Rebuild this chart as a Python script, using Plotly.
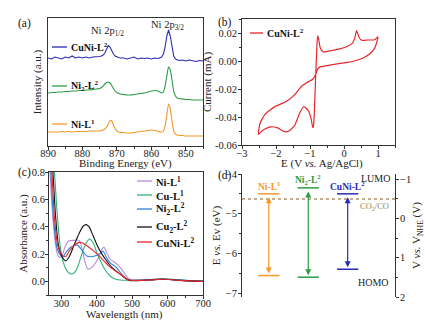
import plotly.graph_objects as go

W, H = 425, 328
FONT = "Liberation Serif"

# ---------------- (a) XPS ----------------
be = [890, 889, 888, 887, 886, 885, 884, 883, 882, 881, 880, 879, 878, 877, 876,
      875, 874.5, 874, 873.5, 873, 872.5, 872, 871.5, 871, 870.5, 870, 869.5, 869,
      868, 867, 866, 865, 864, 863, 862, 861, 860, 859, 858,
      857.5, 857, 856.5, 856, 855.5, 855, 854.5, 854, 853.5, 853, 852.5, 852,
      851, 850, 849, 848, 847, 846, 845]
xps_cuni = [88, 87, 89, 88, 87, 89, 88, 90, 88, 89, 88, 89, 88, 89, 89,
            89.5, 90, 91, 93, 97, 100.5, 99, 95, 92, 90, 89, 88.5, 88,
            88, 87, 88, 89, 87, 88, 87.5, 88, 87, 88, 87.5,
            88, 89, 92, 99, 110, 116, 110, 98, 90, 87, 86, 85.5,
            86, 85, 86, 85, 84.5, 85.5, 85]
xps_ni2 = [53, 53.5, 53.5, 54, 54, 54.5, 54.5, 55, 55, 55.5, 55.5, 56, 56, 56.5, 57,
           57.5, 58.5, 60, 62, 63.5, 64, 63, 60.5, 57.5, 55, 53.5, 52.5, 52,
           51.5, 51, 51, 51.5, 52, 52.5, 53, 54, 55, 55.5, 55,
           54, 53, 54, 60, 70, 79, 76, 66, 55, 50, 48, 47.5,
           47, 46.5, 46.5, 46, 46, 46, 46]
xps_ni = [14, 14, 14, 14, 14.5, 14, 14.5, 14, 14.5, 14.5, 14.5, 14.5, 15, 15, 15,
          15, 15.5, 16, 17, 19, 22, 25.5, 25, 21, 17.5, 15, 14, 13.5,
          13.5, 13, 13, 13.5, 14, 14.5, 15, 15.5, 16, 15.5, 14.5,
          14, 14, 15, 20, 31, 42, 37, 25, 15, 12, 11, 10.5,
          10.5, 10, 10, 10, 10, 10, 10]

# ---------------- (b) CV ----------------
cv_e = [1.00, 0.90, 0.70, 0.52, 0.44, 0.37, 0.32, 0.25, 0.10, -0.10, -0.30, -0.50,
        -0.62, -0.70, -0.74, -0.77, -0.79, -0.81, -0.84, -0.87, -0.90, -0.92, -0.96,
        -1.05, -1.18, -1.30, -1.45, -1.62, -1.75, -1.95, -2.15, -2.35, -2.48, -2.52,
        -2.47, -2.32, -2.03, -1.70, -1.45, -1.25, -1.10, -0.92, -0.84, -0.78, -0.70,
        -0.55, -0.20, 0.10, 0.30, 0.55, 0.75, 0.90, 1.00]
cv_i = [0.0172, 0.0152, 0.0150, 0.0148, 0.0170, 0.0218, 0.0165, 0.0128, 0.0105, 0.0088, 0.0078, 0.0068,
        0.0066, 0.0095, 0.0150, 0.0180, 0.0140, 0.0030, -0.0150, -0.0350, -0.0470, -0.0475, -0.0420,
        -0.0355, -0.0325, -0.0370, -0.0460, -0.0500, -0.0505, -0.0478, -0.0470, -0.0490, -0.0515, -0.0525,
        -0.0445, -0.0380, -0.0326, -0.0290, -0.0240, -0.0180, -0.0155, -0.0130, -0.0100, -0.0060, -0.0042,
        -0.0035, -0.0020, -0.0010, 0.0000, 0.0020, 0.0050, 0.0090, 0.0172]

# ---------------- (c) UV-vis ----------------
wl_ni1 = [265, 268, 275, 283, 292, 300, 310, 320, 335, 350, 360, 368, 375, 385, 400, 412, 420, 428, 438, 450, 462, 475, 488, 500, 550, 580, 620, 660, 700]
ab_ni1 = [0.95, 0.8, 0.5, 0.28, 0.18, 0.18, 0.25, 0.295, 0.30, 0.30, 0.22, 0.13, 0.09, 0.10, 0.15, 0.22, 0.25, 0.21, 0.16, 0.14, 0.115, 0.07, 0.025, 0.01, 0.012, 0.018, 0.012, 0.005, 0.002]
wl_cu1 = [272, 280, 288, 297, 305, 315, 325, 335, 345, 358, 370, 380, 390, 400, 410, 420, 432, 445, 460, 500, 550, 590, 630, 670, 700]
ab_cu1 = [0.95, 0.8, 0.5, 0.25, 0.14, 0.08, 0.055, 0.06, 0.10, 0.20, 0.28, 0.31, 0.28, 0.21, 0.15, 0.10, 0.055, 0.025, 0.012, 0.008, 0.012, 0.018, 0.012, 0.004, 0.002]
wl_ni2 = [265, 270, 278, 288, 298, 305, 315, 330, 345, 360, 372, 385, 400, 412, 418, 428, 440, 452, 465, 478, 492, 550, 580, 620, 660, 700]
ab_ni2 = [0.95, 0.8, 0.45, 0.24, 0.19, 0.18, 0.22, 0.255, 0.265, 0.22, 0.185, 0.18, 0.19, 0.21, 0.22, 0.17, 0.13, 0.11, 0.07, 0.03, 0.01, 0.012, 0.017, 0.012, 0.005, 0.002]
wl_cu2 = [270, 276, 283, 292, 302, 312, 322, 335, 350, 362, 370, 378, 390, 400, 412, 425, 440, 455, 470, 485, 495, 550, 585, 620, 660, 700]
ab_cu2 = [0.95, 0.8, 0.5, 0.26, 0.18, 0.15, 0.18, 0.26, 0.35, 0.405, 0.415, 0.40, 0.33, 0.27, 0.21, 0.16, 0.11, 0.075, 0.045, 0.015, 0.005, 0.01, 0.015, 0.01, 0.003, 0.0]
wl_cuni = [268, 273, 281, 290, 300, 312, 322, 335, 350, 360, 375, 390, 405, 420, 435, 450, 465, 478, 490, 550, 585, 620, 660, 700]
ab_cuni = [0.95, 0.8, 0.45, 0.26, 0.20, 0.18, 0.22, 0.26, 0.285, 0.28, 0.255, 0.225, 0.19, 0.15, 0.11, 0.08, 0.055, 0.03, 0.01, 0.01, 0.015, 0.01, 0.003, 0.0]

# ---------------- (d) band levels ----------------
complexes = ["Ni-L<sup>1</sup>", "Ni<sub>2</sub>-L<sup>2</sup>", "CuNi-L<sup>2</sup>"]
lumo = [-4.50, -4.35, -4.50]
homo = [-6.56, -6.60, -6.40]
co2_co = -4.63

c_orange = "#f39a2b"
c_green = "#2e9c44"
c_blue = "#2b2bb5"
c_red = "#e8262b"

fig = go.Figure()

def px_x(p):
    return p / W

def px_y(p):
    return 1 - p / H

# (a)
fig.add_trace(go.Scatter(x=be, y=xps_cuni, mode="lines", line=dict(color=c_blue, width=1.1), xaxis="x", yaxis="y"))
fig.add_trace(go.Scatter(x=be, y=xps_ni2, mode="lines", line=dict(color=c_green, width=1.1, shape="spline", smoothing=0.6), xaxis="x", yaxis="y"))
fig.add_trace(go.Scatter(x=be, y=xps_ni, mode="lines", line=dict(color=c_orange, width=1.1, shape="spline", smoothing=0.6), xaxis="x", yaxis="y"))

# (b)
fig.add_trace(go.Scatter(x=cv_e, y=cv_i, mode="lines", line=dict(color=c_red, width=1.2, shape="spline", smoothing=0.5), xaxis="x2", yaxis="y2"))

# (c)
uv = [(wl_ni1, ab_ni1, "#b98bd8", "Ni-L<sup>1</sup>"),
      (wl_cu1, ab_cu1, "#33b07a", "Cu-L<sup>1</sup>"),
      (wl_ni2, ab_ni2, "#2f80dc", "Ni<sub>2</sub>-L<sup>2</sup>"),
      (wl_cu2, ab_cu2, "#111111", "Cu<sub>2</sub>-L<sup>2</sup>"),
      (wl_cuni, ab_cuni, c_red, "CuNi-L<sup>2</sup>")]
for wl, ab, col, nm in uv:
    fig.add_trace(go.Scatter(x=wl, y=ab, mode="lines", line=dict(color=col, width=1.1, shape="spline", smoothing=0.8),
                             xaxis="x3", yaxis="y3"))

# (d)
dcols = [c_orange, c_green, c_blue]
xpos = [1, 2, 3]
hw = 0.27
for i in range(3):
    for lv in (lumo[i], homo[i]):
        fig.add_trace(go.Scatter(x=[xpos[i] - hw, xpos[i] + hw], y=[lv, lv], mode="lines",
                                 line=dict(color=dcols[i], width=1.5), xaxis="x4", yaxis="y4"))
fig.add_trace(go.Scatter(x=[0.32, 4.2], y=[co2_co, co2_co], mode="lines",
                         line=dict(color="#8a5a20", width=1, dash="dot"), xaxis="x4", yaxis="y4"))
fig.add_trace(go.Scatter(x=[None], y=[None], xaxis="x4", yaxis="y5", showlegend=False))

annotations = []
shapes = []

for i in range(3):
    annotations.append(dict(x=xpos[i], y=homo[i], ax=xpos[i], ay=lumo[i], xref="x4", yref="y4",
                            axref="x4", ayref="y4", showarrow=True, arrowhead=2, arrowside="end+start",
                            arrowsize=1, arrowwidth=1.2, arrowcolor=dcols[i], standoff=2, startstandoff=2, text=""))
    annotations.append(dict(x=xpos[i], y=lumo[i], xref="x4", yref="y4", xanchor="center", yanchor="bottom", yshift=0,
                            showarrow=False, text="<b>" + complexes[i] + "</b>",
                            font=dict(color=dcols[i], size=9.5, family=FONT)))


def txt(x, y, text, size=11, color="#222", xanchor="center"):
    annotations.append(dict(x=px_x(x), y=px_y(y), xref="paper", yref="paper", xanchor=xanchor, yanchor="middle",
                            text=text, showarrow=False, font=dict(size=size, family=FONT, color=color)))


txt(392, 178, "LUMO", 10, xanchor="right")
txt(391, 282, "HOMO", 10, xanchor="right")
txt(391, 206, "CO<sub>2</sub>/CO", 8.5, "#9a8448", xanchor="right")
# x-axis titles
txt(126, 163, "Binding Energy (eV)")
txt(322, 163, "E (V <i>vs.</i> Ag/AgCl)")
txt(124, 314, "Wavelength (nm)")

# panel letters
for lab, x, y in [("(a)", 16, 24), ("(b)", 216, 23), ("(c)", 16, 172), ("(d)", 216, 175)]:
    txt(x, y, lab, 11.5, "#111", xanchor="left")

# (a) peak labels
annotations.append(dict(x=872.7, y=146 - 31, xref="x", yref="y", text="Ni 2p<sub>1/2</sub>", showarrow=False,
                        xanchor="center", yanchor="middle", font=dict(size=10.5, family=FONT, color="#222")))
annotations.append(dict(x=855.3, y=146 - 25, xref="x", yref="y", text="Ni 2p<sub>3/2</sub>", showarrow=False,
                        xanchor="center", yanchor="middle", font=dict(size=10.5, family=FONT, color="#222")))


def legend_item(x0, x1, y, col, text, size=10.5):
    shapes.append(dict(type="line", xref="paper", yref="paper", x0=px_x(x0), x1=px_x(x1), y0=px_y(y), y1=px_y(y),
                       line=dict(color=col, width=1.3)))
    txt(x1 + 1.5, y, "<b>" + text + "</b>", size, "#111", xanchor="left")


legend_item(52, 67, 47, c_blue, "CuNi-L<sup>2</sup>", 10)
legend_item(52, 67, 86, c_green, "Ni<sub>2</sub>-L<sup>2</sup>", 10)
legend_item(52, 67, 124, c_orange, "Ni-L<sup>1</sup>", 10)
legend_item(250, 263, 33, c_red, "CuNi-L<sup>2</sup>", 10)
for (wl, ab, col, nm), yy in zip(uv, [181, 195, 209, 227, 242]):
    legend_item(137, 152, yy, col, nm)

axis_common = dict(showline=True, linecolor="#333", linewidth=1, mirror=True, ticks="outside", ticklen=3,
                   tickcolor="#333", tickfont=dict(size=10.5, family=FONT, color="#222"), showgrid=False,
                   zeroline=False, title_font=dict(size=11, family=FONT, color="#222"), automargin=False,
                   minor=dict(ticks="outside", ticklen=2, tickcolor="#333"))

fig.update_layout(
    width=W, height=H, margin=dict(l=0, r=0, t=0, b=0, autoexpand=False), paper_bgcolor="white", plot_bgcolor="white",
    showlegend=False, font=dict(family=FONT),
    xaxis=dict(axis_common, domain=[px_x(48), px_x(203)], anchor="y", range=[890, 845],
               tickvals=[890, 880, 870, 860, 850], minor=dict(axis_common["minor"], dtick=5), ticklabelstandoff=-6),
    yaxis=dict(axis_common, domain=[px_y(146), px_y(18)], anchor="x", range=[0, 128], showticklabels=False,
               ticks="", minor=dict(ticks=""), title=dict(text="Intensity (a.u.)", standoff=3)),
    xaxis2=dict(axis_common, domain=[px_x(242), px_x(395)], anchor="y2", range=[-3, 1.5],
                tickvals=[-3, -2, -1, 0, 1], minor=dict(axis_common["minor"], dtick=0.5), ticklabelstandoff=-5),
    yaxis2=dict(axis_common, domain=[px_y(145), px_y(19)], anchor="x2", range=[-0.06, 0.03],
                tickvals=[-0.06, -0.04, -0.02, 0.0, 0.02], ticktext=["-0.06", "-0.04", "-0.02", "0.00", "0.02"],
                minor=dict(axis_common["minor"], dtick=0.01), ticklabelstandoff=-1,
                title=dict(text="Current (mA)", standoff=1)),
    xaxis3=dict(axis_common, domain=[px_x(49), px_x(203)], anchor="y3", range=[265, 700],
                tickvals=[300, 400, 500, 600, 700], minor=dict(axis_common["minor"], dtick=50), ticklabelstandoff=-5),
    yaxis3=dict(axis_common, domain=[px_y(295), px_y(172)], anchor="x3", range=[-0.1, 0.8],
                tickvals=[0.0, 0.2, 0.4, 0.6, 0.8], ticktext=["0.0", "0.2", "0.4", "0.6", "0.8"],
                minor=dict(axis_common["minor"], dtick=0.1), ticklabelstandoff=-2,
                title=dict(text="Absorbance (a.u.)", standoff=1)),
    xaxis4=dict(domain=[px_x(242), px_x(395)], anchor="y4", range=[0.32, 4.2], visible=False, automargin=False),
    yaxis4=dict(axis_common, domain=[px_y(297), px_y(174)], anchor="x4", range=[-7.1, -4.0], mirror=False,
                tickvals=[-7, -6, -5, -4], minor=dict(axis_common["minor"], dtick=0.5), ticklabelstandoff=-1,
                title=dict(text="E <i>vs.</i> Ev (eV)", standoff=2)),
    yaxis5=dict(axis_common, overlaying="y4", side="right", anchor="x4", range=[2.0, -1.13], mirror=False,
                tickvals=[-1, 0, 1, 2], minor=dict(axis_common["minor"], dtick=0.5), ticklabelstandoff=-1,
                title=dict(text="V <i>vs.</i> V<sub>NHE</sub> (V)", standoff=2)),
    annotations=annotations, shapes=shapes,
)

fig.write_html("out.html", config={"displayModeBar": False},
               post_script="document.body.style.margin='0';document.body.style.overflow='hidden';")
